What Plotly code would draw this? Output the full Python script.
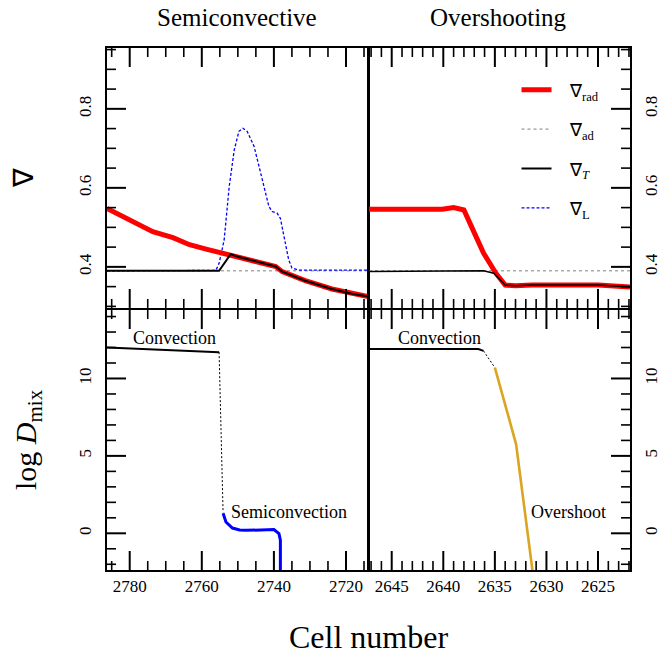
import plotly.graph_objects as go

# ---------------- data ----------------
# Semiconvective boundary: temperature gradients vs cell number
sc_rad_cell = [2786.3, 2781.8, 2778.2, 2773.6, 2768.0, 2763.4, 2758.8, 2754.3,
               2749.7, 2745.1, 2739.5, 2737.7, 2731.3, 2723.9, 2718.4, 2713.9]
sc_rad = [0.548, 0.527, 0.512, 0.489, 0.474, 0.456, 0.445, 0.435,
          0.425, 0.414, 0.401, 0.388, 0.365, 0.344, 0.332, 0.325]

sc_T_cell = [2786.3, 2755.2, 2752.0, 2749.7, 2745.1, 2739.5, 2737.7, 2731.3,
             2723.9, 2718.4, 2713.9]
sc_T = [0.390, 0.390, 0.432, 0.425, 0.414, 0.401, 0.388, 0.365,
        0.344, 0.332, 0.325]

sc_ad_cell = [2786.3, 2713.9]
sc_ad = [0.390, 0.390]

sc_L_cell = [2786.3, 2756.1, 2755.2, 2753.8, 2752.4, 2751.0, 2749.7, 2748.6,
             2747.4, 2745.5, 2743.2, 2741.4, 2740.5, 2739.1, 2738.2, 2737.2,
             2735.9, 2735.0, 2733.1, 2713.9]
sc_L = [0.390, 0.391, 0.409, 0.468, 0.603, 0.696, 0.743, 0.751,
        0.743, 0.705, 0.620, 0.553, 0.540, 0.536, 0.523, 0.477,
        0.418, 0.397, 0.392, 0.392]

# Overshooting boundary: temperature gradients vs cell number
ov_rad_cell = [2647.2, 2640.1, 2639.0, 2638.0, 2637.2, 2636.1, 2634.9, 2634.0,
               2633.0, 2631.4, 2625.0, 2621.9]
ov_rad = [0.546, 0.546, 0.550, 0.544, 0.498, 0.435, 0.384, 0.354,
          0.352, 0.354, 0.354, 0.349]

ov_T_cell = [2647.2, 2636.6, 2636.1, 2635.1, 2634.0, 2633.0, 2631.4, 2625.0, 2621.9]
ov_T = [0.388, 0.389, 0.390, 0.384, 0.354, 0.352, 0.354, 0.354, 0.349]

ov_ad_cell = [2647.2, 2621.9]
ov_ad = [0.390, 0.390]

# Mixing coefficients (log D_mix)
sc_conv_cell = [2786.3, 2755.2]
sc_conv = [12.0, 11.7]
sc_gap_cell = [2755.2, 2754.1]
sc_gap = [11.7, 1.35]
sc_semi_cell = [2754.1, 2753.3, 2751.5, 2749.5, 2747.8, 2745.0, 2742.3, 2740.0,
                2738.6, 2738.2, 2738.2]
sc_semi = [1.30, 0.73, 0.34, 0.22, 0.19, 0.20, 0.24, 0.24,
           -0.02, -0.45, -5.0]

ov_conv_cell = [2647.2, 2636.6, 2636.1]
ov_conv = [11.9, 11.9, 11.78]
ov_gap_cell = [2636.1, 2635.0]
ov_gap = [11.78, 10.7]
ov_over_cell = [2635.0, 2632.94, 2631.18]
ov_over = [10.7, 5.75, -3.3]

panel_titles = ["Semiconvective", "Overshooting"]
zone_labels = ["Convection", "Semiconvection", "Convection", "Overshoot"]

# ---------------- styles ----------------
FONT = "Liberation Serif"
RED = "#ff0000"
GREY = "#808080"
BLUE = "#0000ff"
GOLD = "#daa520"
PAD = "\u2002\u2005"  # gap between legend sample and its label
MAJ_LEN, MIN_LEN = 19, 9

W, H = 660, 654
ML, MR, MT, MB = 107, 30, 48, 84
PLOT_W = W - ML - MR
PLOT_H = H - MT - MB

XL = [2786.3, 2713.9]
XR = [2647.2, 2621.9]
YT = [0.296, 0.954]
YB = [-2.37, 14.42]
DL = [0, 0.499]
DR = [0.501, 1]
DT = [0.502, 1]
DB = [0, 0.498]

fig = go.Figure()

def add(x, y, xa, ya, color, width, dash="solid", name=None, legend=False, rank=None, group=None):
    fig.add_trace(go.Scatter(
        x=x, y=y, xaxis=xa, yaxis=ya, mode="lines",
        line=dict(color=color, width=width, dash=dash),
        name=name, showlegend=legend, legendrank=rank,
        legendgroup=group, hoverinfo="skip"))

# top-left: semiconvective gradients
add(sc_ad_cell, sc_ad, "x", "y", GREY, 1, "3px,3px", PAD + "∇<sub>ad</sub>", True, 2, "ad")
add(sc_L_cell, sc_L, "x", "y", BLUE, 1.3, "3px,2px", PAD + "∇<sub>L</sub>", True, 4, "L")
add(sc_rad_cell, sc_rad, "x", "y", RED, 5, "solid", PAD + "∇<sub>rad</sub>", True, 1, "rad")
add(sc_T_cell, sc_T, "x", "y", "black", 2, "solid", PAD + "∇<sub><i>T</i></sub>", True, 3, "T")

# top-right: overshooting gradients
add(ov_ad_cell, ov_ad, "x2", "y2", GREY, 1, "3px,3px")
add(ov_rad_cell, ov_rad, "x2", "y2", RED, 5)
add(ov_T_cell, ov_T, "x2", "y2", "black", 1.5)

# bottom-left: semiconvective mixing
add(sc_conv_cell, sc_conv, "x3", "y3", "black", 2)
add(sc_gap_cell, sc_gap, "x3", "y3", "black", 1, "2px,2px")
add(sc_semi_cell, sc_semi, "x3", "y3", BLUE, 3)

# bottom-right: overshooting mixing
add(ov_conv_cell, ov_conv, "x4", "y4", "black", 2)
add(ov_gap_cell, ov_gap, "x4", "y4", "black", 1, "2px,2px")
add(ov_over_cell, ov_over, "x4", "y4", GOLD, 2.6)


# Inward tick marks, drawn as short line segments starting on the frame.
def inward(rng, edge, length, span_px):
    """Axis value one tick length inside the frame edge rng[edge]."""
    per_px = abs(rng[1] - rng[0]) / span_px
    sign = 1 if rng[1 - edge] > rng[edge] else -1
    return rng[edge] + sign * length * per_px

def grid_values(lo, hi, n_per):
    # multiples of 1/n_per inside [lo, hi]
    out = []
    k = int(lo * n_per) - 1
    while k <= hi * n_per + 1:
        v = k / n_per
        if lo <= v <= hi:
            out.append(v)
        k += 1
    return out

def on_grid(v, n_per):
    return abs(v * n_per - round(v * n_per)) < 1e-9

def frame_ticks(xa, ya, xr, yr, xdom, ydom, x_major, x_minor, y_major, y_minor, y_side):
    x_px = (xdom[1] - xdom[0]) * PLOT_W
    y_px = (ydom[1] - ydom[0]) * PLOT_H
    xv = grid_values(min(xr), max(xr), x_minor)
    yv = grid_values(yr[0], yr[1], y_minor)
    for is_major, ln, w in ((False, MIN_LEN, 1.6), (True, MAJ_LEN, 2)):
        xs, ys = [], []
        # bottom and top edges
        for v in xv:
            if on_grid(v, x_major) != is_major:
                continue
            for edge in (0, 1):
                xs += [v, v, None]
                ys += [yr[edge], inward(yr, edge, ln, y_px), None]
        # outer vertical edge
        x_edge = xr[y_side]
        x_tip = inward(xr, y_side, ln, x_px)
        for v in yv:
            if on_grid(v, y_major) != is_major:
                continue
            xs += [x_edge, x_tip, None]
            ys += [v, v, None]
        fig.add_trace(go.Scatter(
            x=xs, y=ys, xaxis=xa, yaxis=ya, mode="lines",
            line=dict(color="black", width=w),
            showlegend=False, hoverinfo="skip"))

# n_per values: ticks per unit (major/minor)
frame_ticks("x", "y", XL, YT, DL, DT, 1 / 20, 1 / 5, 5, 20, 0)
frame_ticks("x2", "y2", XR, YT, DR, DT, 1 / 5, 1, 5, 20, 1)
frame_ticks("x3", "y3", XL, YB, DL, DB, 1 / 20, 1 / 5, 1 / 5, 1, 0)
frame_ticks("x4", "y4", XR, YB, DR, DB, 1 / 5, 1, 1 / 5, 1, 1)

tickfont = dict(family=FONT, size=17, color="black")

def xax(rng, dtick, tick0, domain, anchor, labels):
    return dict(range=rng, domain=domain, anchor=anchor, dtick=dtick, tick0=tick0,
                showline=True, linewidth=2, linecolor="black", mirror=True,
                ticks="", showgrid=False, zeroline=False, showticklabels=labels,
                tickfont=tickfont, automargin=False, fixedrange=True)

def yax(rng, dtick, tick0, domain, anchor, side, standoff):
    return dict(range=rng, domain=domain, anchor=anchor, dtick=dtick, tick0=tick0,
                side=side, showline=True, linewidth=2, linecolor="black", mirror=True,
                ticks="", showgrid=False, zeroline=False, tickangle=-90,
                tickfont=tickfont, ticklabelstandoff=standoff, automargin=False,
                fixedrange=True)

fig.update_layout(
    width=W, height=H,
    margin=dict(l=ML, r=MR, t=MT, b=MB),
    paper_bgcolor="white", plot_bgcolor="rgba(0,0,0,0)",
    font=dict(family=FONT, color="black"),
    xaxis=xax(XL, 20, 2780, DL, "y", False),
    xaxis2=xax(XR, 5, 2645, DR, "y2", False),
    xaxis3=xax(XL, 20, 2780, DL, "y3", True),
    xaxis4=xax(XR, 5, 2645, DR, "y4", True),
    yaxis=yax(YT, 0.2, 0.4, DT, "x", "left", 7),
    yaxis2=yax(YT, 0.2, 0.4, DT, "x2", "right", 5),
    yaxis3=yax(YB, 5, 0, DB, "x3", "left", 7),
    yaxis4=yax(YB, 5, 0, DB, "x4", "right", 5),
    legend=dict(x=0.783, y=0.955, xanchor="left", yanchor="top",
                bgcolor="rgba(0,0,0,0)", borderwidth=0,
                font=dict(family=FONT, size=18, color="black"),
                tracegroupgap=13, traceorder="grouped"),
    showlegend=True,
)

ann = []
# panel titles
for i, t in enumerate(panel_titles):
    ann.append(dict(text=t, xref="paper", yref="paper", x=[0.2495, 0.7495][i], y=1.0575,
                    xanchor="center", yanchor="middle", showarrow=False,
                    font=dict(family=FONT, size=25, color="black")))
# axis titles
ann.append(dict(text="Cell number", xref="paper", yref="paper", x=0.5, y=-0.128,
                xanchor="center", yanchor="middle", showarrow=False,
                font=dict(family=FONT, size=32, color="black")))
ann.append(dict(text="∇", xref="paper", yref="paper", x=0, y=0.751, xshift=-83,
                xanchor="center", yanchor="middle", textangle=-90, showarrow=False,
                font=dict(family=FONT, size=28, color="black")))
ann.append(dict(text="log <i>D</i><sub>mix</sub>", xref="paper", yref="paper", x=0, y=0.249,
                xshift=-79, xanchor="center", yanchor="middle", textangle=-90,
                showarrow=False, font=dict(family=FONT, size=30, color="black")))
# zone labels inside the mixing panels
zone_pos = [("x3", "y3", 2767.6, 12.6), ("x3", "y3", 2735.7, 1.37),
            ("x4", "y4", 2640.4, 12.6), ("x4", "y4", 2627.9, 1.37)]
for lbl, (xa, ya, xv, yv) in zip(zone_labels, zone_pos):
    ann.append(dict(text=lbl, xref=xa, yref=ya, x=xv, y=yv, xanchor="center",
                    yanchor="middle", showarrow=False,
                    font=dict(family=FONT, size=18, color="black")))
fig.update_layout(annotations=ann)

fig.write_html("out.html")
